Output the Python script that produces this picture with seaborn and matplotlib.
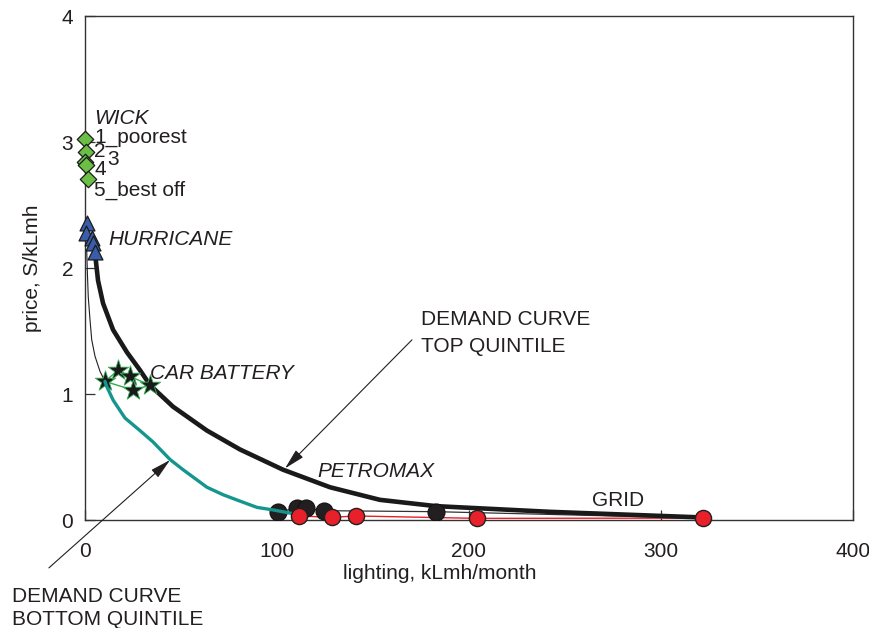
import numpy as np
import pandas as pd
import matplotlib
matplotlib.use("Agg")
import matplotlib.pyplot as plt
import seaborn as sns

# ---------------- data ----------------
wick_x = [0.0, 0.5, 0.0, 0.5, 1.4]
wick_y = [3.02, 2.92, 2.84, 2.82, 2.71]
wick_labels = ["1_poorest", "2", "3", "4", "5_best off"]

hurr_x = [1.1, 0.5, 3.5, 4.3, 5.2]
hurr_y = [2.36, 2.28, 2.24, 2.20, 2.13]

car_x = [10.4, 17.3, 23.4, 25.2, 33.9]
car_y = [1.10, 1.19, 1.14, 1.03, 1.07]

petro_x = [100.7, 110.3, 115.1, 124.6, 182.7]
petro_y = [0.066, 0.093, 0.093, 0.074, 0.066]

grid_x = [111.6, 128.8, 141.1, 204.0, 322.0]
grid_y = [0.032, 0.021, 0.032, 0.013, 0.015]

top_x = [5.2, 6.8, 9.4, 14.6, 21.9, 28.6, 33.9, 45.8, 63.5, 80.7, 103.0,
         127.6, 153.6, 182.8, 242.0, 322.0]
top_y = [2.12, 1.90, 1.72, 1.51, 1.33, 1.19, 1.07, 0.90, 0.71, 0.56, 0.40,
         0.26, 0.16, 0.11, 0.065, 0.02]

thin_x = [0.9, 1.2, 1.7, 2.6, 3.5, 5.2, 7.8, 10.4]
thin_y = [2.14, 1.98, 1.77, 1.59, 1.43, 1.30, 1.18, 1.10]

bot_x = [10.4, 11.3, 14.7, 20.8, 28.6, 35.4, 44.3, 51.0, 63.5, 72.0, 80.7,
         89.6, 98.0, 112.0]
bot_y = [1.10, 1.06, 0.95, 0.81, 0.71, 0.62, 0.48, 0.40, 0.26, 0.20, 0.15,
         0.10, 0.08, 0.04]

x_ticks = [0, 100, 200, 300, 400]
y_ticks = [0, 1, 2, 3, 4]

# ---------------- style ----------------
sns.set_style("ticks")
FONT = ["Liberation Sans", "DejaVu Sans"]
plt.rcParams["font.family"] = FONT
FS = 15
TXT = "#231f20"

fig = plt.figure(figsize=(8.69, 6.28), dpi=100)
ax = fig.add_axes([85 / 869, 108 / 628, 768 / 869, 504 / 628])

def line(x, y, **kw):
    df = pd.DataFrame({"x": x, "y": y})
    sns.lineplot(data=df, x="x", y="y", sort=False, estimator=None, ax=ax, **kw)

def pts(x, y, **kw):
    df = pd.DataFrame({"x": x, "y": y})
    sns.scatterplot(data=df, x="x", y="y", ax=ax, legend=False, **kw)

# thin connector lines
line(thin_x, thin_y, color="#231f20", linewidth=0.8, zorder=2)
car_order = [0, 1, 2, 4, 3, 0]
line([car_x[i] for i in car_order], [car_y[i] for i in car_order],
     color="#2fae4e", linewidth=1.0, zorder=2)
line(petro_x + [grid_x[-1]], petro_y + [grid_y[-1]], color="#333333",
     linewidth=0.9, zorder=2)
line(grid_x, grid_y, color="#e8202a", linewidth=1.0, zorder=2)

# demand curves
line(top_x, top_y, color="#1a1a1a", linewidth=3.3, zorder=4)

# markers
pts(wick_x, wick_y, marker="D", s=70, color="#6cbf45", edgecolor="#1a1a1a",
    linewidth=0.9, zorder=5, clip_on=False)
pts(hurr_x, hurr_y, marker="^", s=115, color="#3a5daa", edgecolor="#1a1a1a",
    linewidth=0.9, zorder=5, clip_on=False)
pts(car_x, car_y, marker="*", s=240, color="#1a1a1a", edgecolor="#3cb05a",
    linewidth=0.6, zorder=5)
pts(petro_x, petro_y, marker="o", s=150, color="#231f20", edgecolor="#111111",
    linewidth=0.8, zorder=5)
line(bot_x, bot_y, color="#14968f", linewidth=2.4, zorder=6)
pts(grid_x, grid_y, marker="o", s=135, color="#e8202a", edgecolor="#231f20",
    linewidth=1.0, zorder=7, clip_on=False)

# ---------------- labels ----------------
ax.text(4.7, 3.14, "WICK", fontsize=FS, style="italic", color=TXT)
lab_pos = [(4.7, 2.995), (4.7, 2.88), (11.5, 2.82), (4.7, 2.74), (4.7, 2.57)]
for (lx, ly), t in zip(lab_pos, wick_labels):
    ax.text(lx, ly, t, fontsize=FS, color=TXT, va="baseline")
ax.text(12.0, 2.18, "HURRICANE", fontsize=FS, style="italic", color=TXT)
ax.text(33.9, 1.12, "CAR BATTERY", fontsize=FS, style="italic", color=TXT)
ax.text(120.8, 0.34, "PETROMAX", fontsize=FS, style="italic", color=TXT)
ax.text(264.0, 0.11, "GRID", fontsize=FS, color=TXT)

ax.text(175.0, 1.55, "DEMAND CURVE", fontsize=FS, color=TXT)
ax.text(175.0, 1.33, "TOP QUINTILE", fontsize=FS, color=TXT)
ax.annotate("", xy=(104.2, 0.41), xytext=(170.3, 1.43),
            arrowprops=dict(arrowstyle="-|>,head_length=0.9,head_width=0.22",
                            color="#231f20", lw=0.8, shrinkA=0, shrinkB=0,
                            mutation_scale=14), zorder=8)

ax.text(-38.0, -0.648, "DEMAND CURVE", fontsize=FS, color=TXT, clip_on=False)
ax.text(-38.0, -0.833, "BOTTOM QUINTILE", fontsize=FS, color=TXT, clip_on=False)
ax.annotate("", xy=(44.3, 0.476), xytext=(-18.8, -0.38),
            arrowprops=dict(arrowstyle="-|>,head_length=0.9,head_width=0.22",
                            color="#231f20", lw=0.8, shrinkA=0, shrinkB=0,
                            mutation_scale=14),
            annotation_clip=False, zorder=8)

# ---------------- axes ----------------
ax.set_xlim(0, 400)
ax.set_ylim(0, 4)
ax.set_xticks(x_ticks)
ax.set_yticks(y_ticks)
ax.set_xticklabels([str(v) for v in x_ticks])
ax.set_yticklabels([str(v) for v in y_ticks])
ax.tick_params(axis="both", direction="in", length=7, width=0.9,
               labelsize=FS, colors="#333333", labelcolor=TXT)
ax.tick_params(axis="x", pad=15.5)
ax.tick_params(axis="y", pad=8.5)
for s in ax.spines.values():
    s.set_color("#333333")
    s.set_linewidth(1.0)
ax.set_xlabel("lighting, kLmh/month", fontsize=FS, color=TXT)
ax.set_ylabel("price, S/kLmh", fontsize=FS, color=TXT)
ax.xaxis.set_label_coords(0.462, -0.088)
ax.yaxis.set_label_coords(-0.056, 0.5)

fig.savefig("out.png", dpi=100)
